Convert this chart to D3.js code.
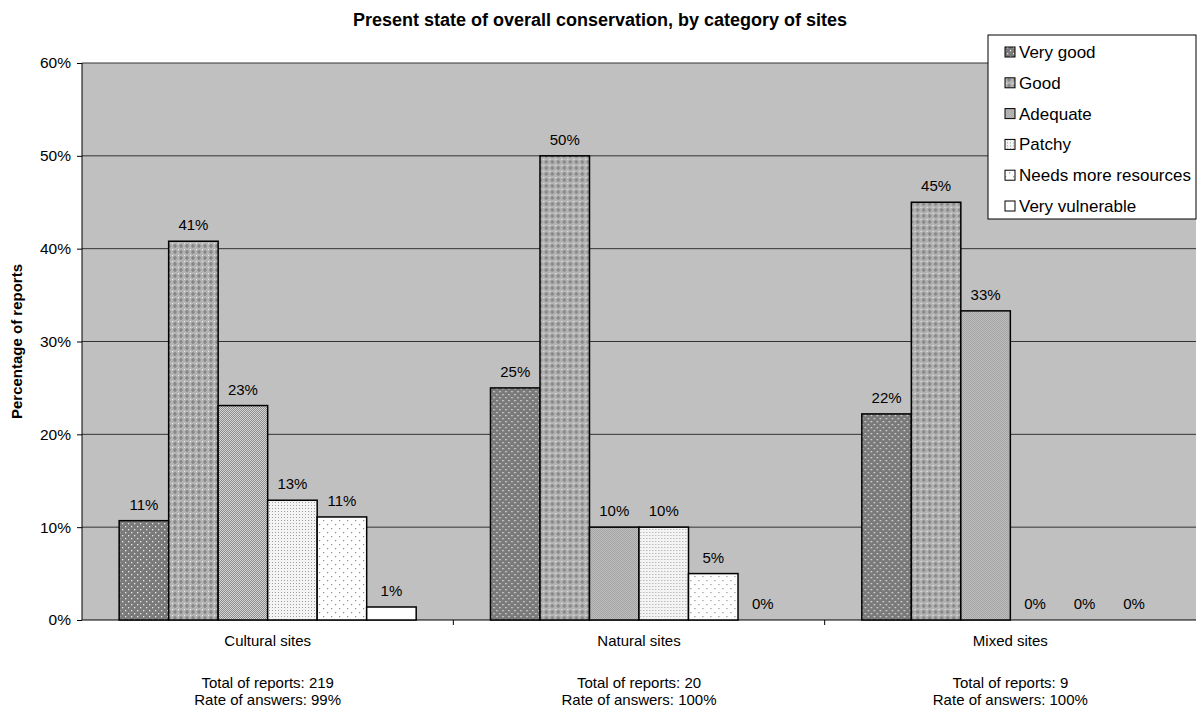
<!DOCTYPE html>
<html>
<head>
    <meta charset='utf-8'>
    <title>Conservation chart</title>
    <script type='text/javascript' src='https://cdn.jsdelivr.net/npm/d3@7'></script>
    <style>
        body { margin: 0; background: #fff; }
        text { font-family: Arial, 'Liberation Sans', sans-serif; }
    </style>
</head>
<body>
    <svg width='1200' height='716'></svg>
    <script type='text/javascript'>
        const categories = ['Cultural sites', 'Natural sites', 'Mixed sites']
        const totals = ['Total of reports: 219', 'Total of reports: 20', 'Total of reports: 9']
        const rates = ['Rate of answers: 99%', 'Rate of answers: 100%', 'Rate of answers: 100%']
        const series = ['Very good', 'Good', 'Adequate', 'Patchy', 'Needs more resources', 'Very vulnerable']
        // percentage per series, one value per category
        const veryGood = [10.7, 25, 22.2]
        const good = [40.8, 50, 45]
        const adequate = [23.1, 10, 33.3]
        const patchy = [12.9, 10, 0]
        const needsMore = [11.1, 5, 0]
        const veryVulnerable = [1.4, 0, 0]
        const seriesValues = [veryGood, good, adequate, patchy, needsMore, veryVulnerable]
        const yTicks = [0, 10, 20, 30, 40, 50, 60]

        const svg = d3.select('svg')
        const margin = { top: 63, left: 82, bottom: 96, right: 4 }
        const width = 1200 - margin.left - margin.right
        const height = 716 - margin.top - margin.bottom
        const fontSize = 15

        // fill patterns, roughly like the old excel ones
        const defs = svg.append('defs')
        function pattern(id, size, bg) {
            const p = defs.append('pattern').attr('id', id)
                .attr('patternUnits', 'userSpaceOnUse')
                .attr('width', size).attr('height', size)
            p.append('rect').attr('width', size).attr('height', size).attr('fill', bg)
            return p
        }
        let p = pattern('p0', 6, '#7a7a7a')
        p.append('rect').attr('x', 1).attr('y', 1).attr('width', 1.3).attr('height', 1.3).attr('fill', '#e8e8e8')
        p.append('rect').attr('x', 4).attr('y', 4).attr('width', 1.3).attr('height', 1.3).attr('fill', '#e8e8e8')

        p = pattern('p1', 6, '#b4b4b4')
        p.append('path').attr('d', 'M3,1V5M1,3H5').attr('stroke', '#7c7c7c').attr('stroke-width', 1.2)
        p.append('rect').attr('x', 0).attr('y', 0).attr('width', 1).attr('height', 1).attr('fill', '#f2f2f2')

        p = pattern('p2', 2, '#d6d6d6')
        p.append('rect').attr('width', 1).attr('height', 1).attr('fill', '#8c8c8c')
        p.append('rect').attr('x', 1).attr('y', 1).attr('width', 1).attr('height', 1).attr('fill', '#8c8c8c')

        p = pattern('p3', 3, '#f4f4f4')
        p.append('rect').attr('x', 1).attr('y', 1).attr('width', 1).attr('height', 1).attr('fill', '#a0a0a0')

        p = pattern('p4', 8, '#ffffff')
        p.append('rect').attr('x', 1).attr('y', 1).attr('width', 1.2).attr('height', 1.2).attr('fill', '#8a8a8a')
        p.append('rect').attr('x', 5).attr('y', 5).attr('width', 1.2).attr('height', 1.2).attr('fill', '#8a8a8a')

        pattern('p5', 4, '#ffffff')

        const fills = series.map((s, i) => `url(#p${i})`)

        const g = svg.append('g').attr('transform', `translate(${margin.left},${margin.top})`)

        const x0 = d3.scaleBand().domain(categories).range([0, width])
        const groupWidth = x0.bandwidth() * 297 / 371.3
        const x1 = d3.scaleBand().domain(series)
            .range([(x0.bandwidth() - groupWidth) / 2, (x0.bandwidth() + groupWidth) / 2])
        const y = d3.scaleLinear().domain([0, 60]).range([height, 0])

        g.append('rect').attr('width', width).attr('height', height).attr('fill', '#c0c0c0')

        // gridlines
        g.append('g').selectAll('line').data(yTicks.slice(1)).join('line')
            .attr('x1', 0).attr('x2', width)
            .attr('y1', d => y(d)).attr('y2', d => y(d))
            .attr('stroke', '#333').attr('stroke-width', 1)

        // y axis
        const yAxis = g.append('g')
            .call(d3.axisLeft(y).tickValues(yTicks).tickFormat(d => d + '%').tickSize(5).tickPadding(6))
        yAxis.select('.domain').attr('stroke', '#000').attr('d', `M0,0V${height}`)
        yAxis.selectAll('text').attr('font-size', 15.5).attr('fill', '#000')
            .style('font-family', 'Arial, Liberation Sans, sans-serif')

        // x axis
        const xAxis = g.append('g').attr('transform', `translate(0,${height})`)
        xAxis.append('line').attr('x1', 0).attr('x2', width).attr('stroke', '#000')
        xAxis.selectAll('.tk').data([1, 2]).join('line')
            .attr('x1', d => x0.step() * d).attr('x2', d => x0.step() * d)
            .attr('y1', 0).attr('y2', 5).attr('stroke', '#000')

        // bars
        const groups = g.append('g').selectAll('g').data(categories).join('g')
            .attr('transform', c => `translate(${x0(c)},0)`)

        groups.selectAll('rect')
            .data((c, ci) => series.map((s, si) => ({ s, si, v: seriesValues[si][ci] })))
            .join('rect')
            .filter(d => d.v > 0)
            .attr('x', d => x1(d.s))
            .attr('y', d => y(d.v))
            .attr('width', x1.bandwidth())
            .attr('height', d => y(0) - y(d.v))
            .attr('fill', d => fills[d.si])
            .attr('stroke', '#000').attr('stroke-width', 1.5)

        groups.selectAll('text')
            .data((c, ci) => series.map((s, si) => ({ s, si, v: seriesValues[si][ci] })))
            .join('text')
            .attr('x', d => x1(d.s) + x1.bandwidth() / 2)
            .attr('y', d => y(d.v) - 11)
            .attr('text-anchor', 'middle')
            .attr('font-size', fontSize)
            .text(d => Math.round(d.v) + '%')

        // category labels
        const catLabels = g.append('g').selectAll('g').data(categories).join('g')
            .attr('transform', c => `translate(${x0(c) + x0.bandwidth() / 2},${height})`)
            .attr('text-anchor', 'middle').attr('font-size', fontSize)
        catLabels.append('text').attr('y', 26).text(c => c)
        catLabels.append('text').attr('y', 68).text((c, i) => totals[i])
        catLabels.append('text').attr('y', 85).text((c, i) => rates[i])

        // title
        svg.append('text').attr('x', 600).attr('y', 26).attr('text-anchor', 'middle')
            .attr('font-size', 18).attr('font-weight', 'bold')
            .text('Present state of overall conservation, by category of sites')

        svg.append('text')
            .attr('transform', `translate(22,${margin.top + height / 2}) rotate(-90)`)
            .attr('text-anchor', 'middle').attr('font-size', fontSize).attr('font-weight', 'bold')
            .text('Percentage of reports')

        // legend
        const legend = svg.append('g').attr('transform', 'translate(988,35)')
        legend.append('rect').attr('width', 208).attr('height', 184)
            .attr('fill', '#fff').attr('stroke', '#000').attr('stroke-width', 1)
        const items = legend.selectAll('.item').data(series).join('g')
            .attr('transform', (d, i) => `translate(0,${17 + i * 30.8})`)
        items.append('rect').attr('x', 17).attr('y', -5).attr('width', 10).attr('height', 10)
            .attr('fill', (d, i) => fills[i]).attr('stroke', '#000').attr('stroke-width', 1)
        items.append('text').attr('x', 31).attr('y', 6).attr('font-size', 17).text(d => d)
    </script>
</body>
</html>
